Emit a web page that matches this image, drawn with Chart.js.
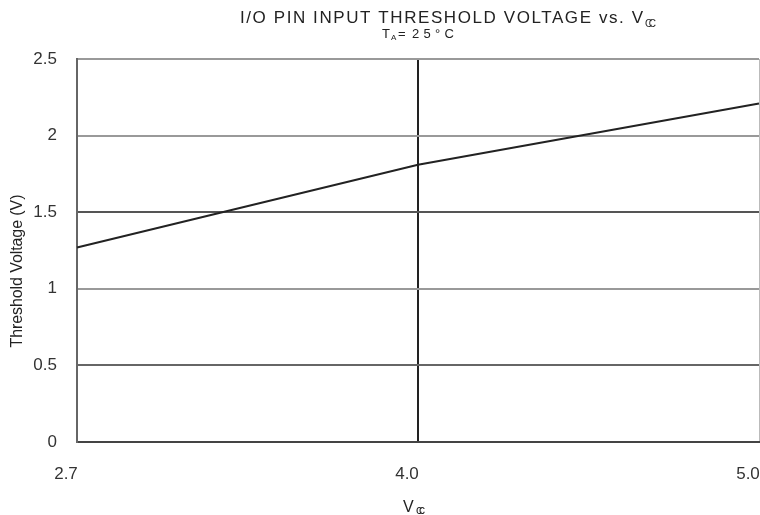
<!DOCTYPE html>
<html><head><meta charset="utf-8">
<script src="https://cdn.jsdelivr.net/npm/chart.js@4"></script>
<style>html,body{margin:0;padding:0;background:#fff}canvas{display:block}</style>
</head><body>
<canvas id="c" width="760" height="515"></canvas>
<script>
const xLabels = ['2.7', '4.0', '5.0'];
const thresholdVoltage = [1.27, 1.81, 2.21];
const yTickValues = [0, 0.5, 1, 1.5, 2, 2.5];
const yTickLabels = ['0', '0.5', '1', '1.5', '2', '2.5'];
const titleMain = 'I/O PIN INPUT THRESHOLD VOLTAGE vs. V';
const titleMainSub = 'CC';
const subtitleT = 'T';
const subtitleSub = 'A';
const subtitleEq = '=';
const subtitleTemp = '25°C';
const yTitle = 'Threshold Voltage (V)';
const xTitleMain = 'V';
const xTitleSub = 'cc';

const FONT = '"Liberation Sans", Arial, Helvetica, sans-serif';

function fitText(ctx, s, x, y, size, targetW, align) {
  ctx.font = size + 'px ' + FONT;
  const hasLS = ('letterSpacing' in ctx);
  if (hasLS) ctx.letterSpacing = '0px';
  const nat = ctx.measureText(s).width;
  let sp = 0;
  if (targetW && s.length > 1) sp = (targetW - nat) / (s.length - 1);
  if (hasLS) ctx.letterSpacing = sp + 'px';
  ctx.textAlign = 'left';
  let w = nat + sp * (s.length - 1);
  let sx = x;
  if (align === 'center') sx = x - w / 2;
  ctx.fillText(s, sx, y);
  if (hasLS) ctx.letterSpacing = '0px';
  return w;
}

const titlesPlugin = {
  id: 'titles',
  afterDraw(chart) {
    const ctx = chart.ctx;
    ctx.save();
    ctx.fillStyle = '#222';
    ctx.textBaseline = 'alphabetic';
    // main title
    fitText(ctx, titleMain, 240, 23, 17, 403);
    fitText(ctx, titleMainSub, 645, 27, 10, 11);
    // subtitle
    fitText(ctx, subtitleT, 382, 38, 13, 0);
    fitText(ctx, subtitleSub, 391, 40, 8, 0);
    fitText(ctx, subtitleEq, 398, 38, 13, 0);
    fitText(ctx, subtitleTemp, 412, 38, 13, 42);
    // x title
    fitText(ctx, xTitleMain, 403, 512, 16, 0);
    fitText(ctx, xTitleSub, 416, 514, 12, 9);
    // y title
    ctx.translate(22, 271);
    ctx.rotate(-Math.PI / 2);
    fitText(ctx, yTitle, 0, 0, 16, 153, 'center');
    ctx.restore();
  }
};

const yGridColors = {0: 'rgba(0,0,0,0)', 0.5: '#666', 1: '#999', 1.5: '#555', 2: '#999', 2.5: '#999'};

new Chart(document.getElementById('c'), {
  type: 'line',
  data: {
    labels: xLabels,
    datasets: [{
      data: thresholdVoltage,
      borderColor: '#222',
      borderWidth: 2,
      pointRadius: 0,
      tension: 0,
      fill: false
    }]
  },
  options: {
    responsive: false,
    animation: false,
    devicePixelRatio: 1,
    layout: { padding: { top: 59, right: 1, left: 0, bottom: 0 } },
    plugins: {
      legend: { display: false },
      title: { display: false },
      tooltip: { enabled: false }
    },
    scales: {
      x: {
        type: 'category',
        offset: false,
        grid: {
          drawTicks: false,
          color: c => c.index === 0 ? 'rgba(0,0,0,0)' : (c.index === 1 ? '#222' : '#bbb'),
          lineWidth: c => c.index === 1 ? 2 : 1
        },
        border: { color: '#444', width: 2 },
        ticks: {
          font: { family: FONT, size: 17 },
          color: '#333',
          padding: 22,
          labelOffset: -11,
          maxRotation: 0,
          autoSkip: false
        },
        afterFit: s => { s.height = 73; s.paddingLeft = 0; s.paddingRight = 0; }
      },
      y: {
        min: 0,
        max: 2.5,
        afterBuildTicks: s => { s.ticks = yTickValues.map(v => ({ value: v })); },
        grid: {
          drawTicks: false,
          color: c => yGridColors[c.tick.value] || '#999',
          lineWidth: 2
        },
        border: { color: '#666', width: 2 },
        ticks: {
          font: { family: FONT, size: 17 },
          color: '#333',
          padding: 20,
          callback: (v, i) => yTickLabels[i]
        },
        afterFit: s => { s.width = 77; s.paddingTop = 0; s.paddingBottom = 0; }
      }
    }
  },
  plugins: [titlesPlugin]
});
</script>
</body></html>
